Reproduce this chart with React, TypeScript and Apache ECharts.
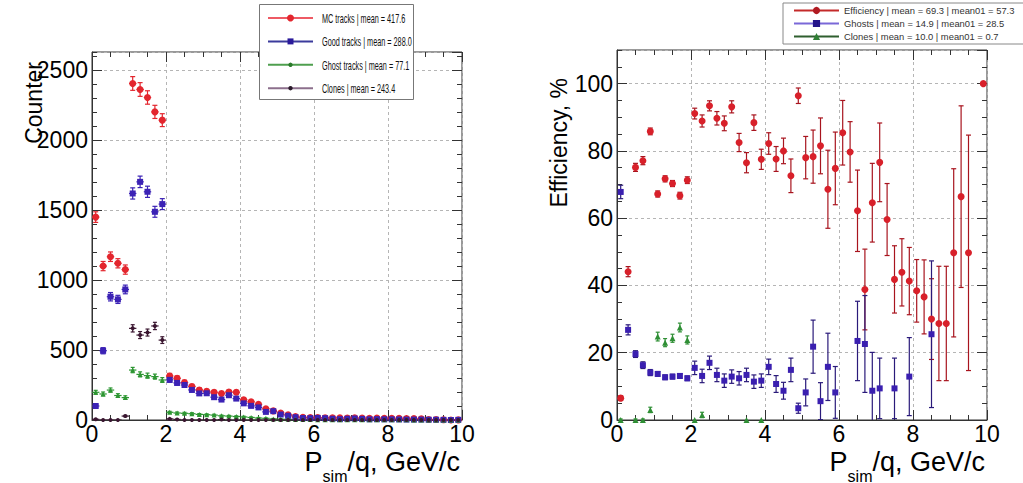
import React, { useEffect, useRef } from 'react';
import * as echarts from 'echarts';

const FONT = '"Liberation Sans", Arial, Helvetica, sans-serif';

// bin centres (GeV/c), bin width 0.2
const binCenters = [0.1, 0.3, 0.5, 0.7, 0.9, 1.1, 1.3, 1.5, 1.7, 1.9, 2.1, 2.3, 2.5, 2.7, 2.9, 3.1, 3.3, 3.5, 3.7, 3.9,
  4.1, 4.3, 4.5, 4.7, 4.9, 5.1, 5.3, 5.5, 5.7, 5.9, 6.1, 6.3, 6.5, 6.7, 6.9, 7.1, 7.3, 7.5, 7.7, 7.9,
  8.1, 8.3, 8.5, 8.7, 8.9, 9.1, 9.3, 9.5, 9.7, 9.9];

// ---- left panel: counters ----
const mcTracks = [1450, 1100, 1167, 1120, 1075, 2405, 2362, 2305, 2202, 2143, 315, 298, 268, 240, 215, 205, 198, 190, 200, 198,
  145, 130, 112, 80, 65, 50, 38, 25, 20, 18, 17, 16, 15, 16, 14, 15, 14, 13, 14, 13,
  12, 12, 11, 10, 9, 4, 3, 2, 0, 1];
const mcErr = [38, 33, 34, 33, 33, 49, 49, 48, 47, 46, 18, 17, 16, 15, 15, 14, 14, 14, 14, 14,
  12, 11, 11, 9, 8, 7, 6, 5, 4, 4, 4, 4, 4, 4, 4, 4, 4, 4, 4, 4,
  3, 3, 3, 3, 3, 2, 2, 1, 0, 1];
const goodTracks = [100, 495, 881, 862, 933, 1619, 1702, 1631, 1488, 1543, 287, 265, 250, 215, 190, 191, 163, 146, 177, 153,
  119, 101, 90, 58, 63, 39, 30, 20, 14, 13, 15, 13, 9, 6, 9, 11, 8, 5, 6, 5,
  5, 4, 3, 3, 3, 2, 2, 1, 0, 1];
const goodErr = [10, 22, 30, 29, 31, 40, 41, 40, 39, 39, 17, 16, 16, 15, 14, 14, 13, 12, 13, 12,
  11, 10, 9, 8, 8, 6, 5, 4, 4, 4, 4, 4, 3, 2, 3, 3, 3, 2, 2, 2,
  2, 2, 2, 2, 2, 1, 1, 1, 0, 1];
const ghostTracks = [198, 186, 214, 175, 160, 357, 326, 317, 310, 286, 55, 50, 48, 45, 40, 38, 35, 30, 28, 25,
  22, 18, 14, 12, 8, 6, 5, 4, 3, 3, 2, 2, 2, 1, 1, 1, 1, 1, 1, 1,
  1, 1, 1, 0, 0, 0, 0, 0, 0, 0];
const ghostErr = [14, 14, 15, 13, 13, 19, 18, 18, 18, 17, 7, 7, 7, 7, 6, 6, 6, 5, 5, 5,
  5, 4, 4, 3, 3, 2, 2, 2, 2, 2, 1, 1, 1, 1, 1, 1, 1, 1, 1, 1,
  1, 1, 1, 0, 0, 0, 0, 0, 0, 0];
const cloneTracks = [5, 0, 0, 0, 28, 655, 607, 625, 672, 571, 8, 4, 0, 0, 0, 0, 0, 3, 0, 0,
  0, 0, 0, 0, 0, 0, 0, 0, 0, 0, 0, 0, 0, 0, 0, 0, 0, 0, 0, 0,
  0, 0, 0, 0, 0, 0, 0, 0, 0, 0];
const cloneErr = [2, 0, 0, 0, 5, 26, 25, 25, 26, 24, 3, 2, 0, 0, 0, 0, 0, 2, 0, 0,
  0, 0, 0, 0, 0, 0, 0, 0, 0, 0, 0, 0, 0, 0, 0, 0, 0, 0, 0, 0,
  0, 0, 0, 0, 0, 0, 0, 0, 0, 0];

// ---- right panel: efficiency, % ----
const efficiency = [6.5, 44.1, 75.1, 77.1, 85.8, 67.2, 71.7, 70.3, 66.7, 71.3, 91.1, 88.9, 93.4, 89.7, 88.2, 93.1, 82.5, 76.5, 88.4, 77.5,
  82.2, 77.6, 80.0, 72.6, 96.4, 78.0, 78.3, 81.5, 68.6, 74.8, 85.4, 79.7, 62.2, 38.8, 64.6, 76.6, 59.6, 41.8, 43.9, 41.3,
  38.4, 36.6, 30.0, 28.7, 28.7, 49.7, 66.4, 49.7, null, 100];
const efficiencyErr = [0.7, 1.5, 1.2, 1.2, 1.0, 0.9, 0.9, 0.9, 1.0, 1.0, 1.6, 1.8, 1.5, 2.0, 2.2, 1.8, 2.7, 3.0, 2.3, 3.0,
  3.2, 3.7, 3.8, 5.0, 2.3, 6.3, 7.9, 8.3, 11.6, 10.8, 9.6, 9.0, 12.1, 12.0, 11.7, 11.7, 10.7, 10.0, 10.0, 10.0,
  9.3, 11.0, 12.0, 17.0, 17.0, 25.0, 27.0, 35.0, null, 0];
const ghostRate = [67.8, 26.8, 19.6, 16.3, 14.1, 13.7, 12.7, 12.9, 13.1, 12.4, 15.5, 13.1, 17.0, 13.4, 11.7, 12.9, 12.4, 13.4, 11.4, 11.7,
  15.8, 10.7, 8.7, 14.9, 3.5, 8.2, 21.8, 5.6, 15.8, 8.2, null, null, 23.5, 22.6, 8.7, 9.4, null, 9.4, null, 12.9,
  null, null, 25.5, null, null, null, null, null, null, null];
const ghostRateErr = [2.0, 1.5, 1.0, 1.0, 0.9, 0.7, 0.7, 0.7, 0.7, 0.7, 2.0, 2.0, 2.0, 2.0, 2.0, 2.0, 2.0, 2.0, 2.0, 2.0,
  2.3, 2.5, 2.5, 3.5, 1.5, 4.0, 7.9, 5.5, 10.0, 7.7, null, null, 11.8, 14.4, 11.4, 9.0, null, 9.0, null, 11.6,
  null, null, 21.8, null, null, null, null, null, null, null];
const cloneRate = [0, null, 0, 0, 3.0, 24.8, 23.0, 24.3, 27.5, 23.8, 0, 1.5, null, null, null, null, null, 0, null, 0,
  null, null, null, null, null, null, null, null, null, null, null, null, null, null, null, null, null, null, null, null,
  null, null, null, null, null, null, null, null, null, null];
const cloneRateErr = [0.3, null, 0.3, 0.3, 0.8, 1.3, 1.2, 1.2, 1.3, 1.2, 0, 0.8, null, null, null, null, null, 0, null, 0,
  null, null, null, null, null, null, null, null, null, null, null, null, null, null, null, null, null, null, null, null,
  null, null, null, null, null, null, null, null, null, null];

const leftLegendLabels = ['MC tracks | mean = 417.6', 'Good tracks | mean = 288.0', 'Ghost tracks | mean = 77.1', 'Clones | mean = 243.4'];
const rightLegendLabels = ['Efficiency | mean = 69.3 | mean01 = 57.3', 'Ghosts | mean = 14.9 | mean01 = 28.5', 'Clones | mean = 10.0 | mean01 = 0.7'];
const xTitle = '{n|P}{s|sim}{n|/q, GeV/c}';
const leftYTitle = 'Counter';
const rightYTitle = 'Efficiency, %';

function points(vals: (number | null)[], errs: (number | null)[]) {
  const out: number[][] = [];
  binCenters.forEach((x, i) => {
    const v = vals[i];
    if (v === null || v === undefined) return;
    out.push([x, v, (errs[i] as number) ?? 0]);
  });
  return out;
}

function errRender(color: string, xHalf: number, cap: number) {
  return (_params: any, api: any) => {
    const x = api.value(0), y = api.value(1), e = api.value(2);
    const c = api.coord([x, y]);
    const children: any[] = [];
    const st = { stroke: color, lineWidth: 1.2 };
    if (e > 0) {
      const hi = api.coord([x, y + e]);
      const lo = api.coord([x, y - e]);
      children.push({ type: 'line', shape: { x1: c[0], y1: hi[1], x2: c[0], y2: lo[1] }, style: st });
      if (cap > 0) {
        children.push({ type: 'line', shape: { x1: c[0] - cap, y1: hi[1], x2: c[0] + cap, y2: hi[1] }, style: st });
        children.push({ type: 'line', shape: { x1: c[0] - cap, y1: lo[1], x2: c[0] + cap, y2: lo[1] }, style: st });
      }
    }
    if (xHalf > 0) {
      const l = api.coord([x - xHalf, y]);
      const r = api.coord([x + xHalf, y]);
      children.push({ type: 'line', shape: { x1: l[0], y1: c[1], x2: r[0], y2: c[1] }, style: st });
    }
    return { type: 'group', children };
  };
}

const AX = '#333';
const tickLabel = { fontSize: 23, color: '#000', fontFamily: FONT };

function xAxesFor(gridIndex: number) {
  const common = {
    type: 'value', gridIndex, min: 0, max: 10, interval: 2,
    axisTick: { show: true, inside: true, length: 10, lineStyle: { color: AX } },
    minorTick: { show: true, splitNumber: 4, length: 5, lineStyle: { color: AX } },
  };
  return [
    {
      ...common, position: 'bottom',
      axisLine: { show: true, onZero: false, lineStyle: { color: AX } },
      splitLine: { show: true, lineStyle: { color: '#b5b5b5', type: [3, 3] } },
      axisLabel: { ...tickLabel, margin: 2, formatter: (v: number) => String(v) },
      name: xTitle, nameLocation: 'end', nameGap: -2, nameMoveOverlap: false,
      nameTextStyle: {
        align: 'right', verticalAlign: 'top', padding: [28, 0, 0, 0], color: '#000', fontFamily: FONT,
        rich: {
          n: { fontSize: 27, fontFamily: FONT, color: '#000', align: 'left', verticalAlign: 'top', padding: [0, 0, 9, 0] },
          s: { fontSize: 16, fontFamily: FONT, color: '#000', align: 'left', verticalAlign: 'bottom' },
        },
      },
    },
    {
      ...common, position: 'top',
      axisLine: { show: false, onZero: false },
      splitLine: { show: false }, axisLabel: { show: false },
    },
  ];
}

function yAxesFor(gridIndex: number, yMax: number, major: number, minor: number, name: string, gap: number) {
  const base = { type: 'value', gridIndex, min: 0, max: yMax, splitLine: { show: false }, axisLabel: { show: false }, axisLine: { show: false, onZero: false } };
  return [
    {
      ...base, position: 'left', interval: major,
      axisLine: { show: true, onZero: false, lineStyle: { color: AX } },
      axisTick: { show: true, inside: true, length: 10, lineStyle: { color: AX } },
      splitLine: { show: true, lineStyle: { color: '#b5b5b5', type: [3, 3] } },
      axisLabel: { ...tickLabel, margin: 4, showMaxLabel: false, formatter: (v: number) => String(v) },
      name, nameLocation: 'end', nameRotate: 90, nameGap: gap, nameMoveOverlap: false,
      nameTextStyle: { fontSize: 23, fontFamily: FONT, color: '#000', align: 'right', verticalAlign: 'bottom', padding: [0, 0, 47, 0] },
    },
    { ...base, position: 'left', interval: minor, axisTick: { show: true, inside: true, length: 5, lineStyle: { color: AX } } },
    { ...base, position: 'right', interval: major, axisTick: { show: true, inside: true, length: 10, lineStyle: { color: AX } } },
    { ...base, position: 'right', interval: minor, axisTick: { show: true, inside: true, length: 5, lineStyle: { color: AX } } },
  ];
}

function markerSeries(name: string, data: number[][], xi: number, yi: number, symbol: string, size: number, color: string) {
  return {
    type: 'line', name, xAxisIndex: xi, yAxisIndex: yi, data, encode: { x: 0, y: 1 },
    symbol, symbolSize: size, showSymbol: true, showAllSymbol: true,
    lineStyle: { width: 0, color }, itemStyle: { color, borderWidth: 0 },
    emphasis: { disabled: true }, silent: true, z: 4, clip: true,
  };
}

function errSeries(name: string, data: number[][], xi: number, yi: number, color: string, xHalf: number, cap: number) {
  return {
    type: 'custom', name, xAxisIndex: xi, yAxisIndex: yi, data, encode: { x: 0, y: 1 },
    renderItem: errRender(color, xHalf, cap), silent: true, z: 3, clip: true,
  };
}

const COL = {
  mc: '#e3262e', good: '#3b22b5', ghost: '#2d9632', clone: '#3a1630',
  eff: '#d8202a', effBar: '#a8141e', gh: '#3a1fb0', ghBar: '#2a1a7a', cl: '#2f8f35',
};

function leftLegendGraphic() {
  const els: any[] = [
    { type: 'rect', shape: { x: 259.5, y: 4.5, width: 154, height: 95 }, style: { fill: '#fff', stroke: '#777', lineWidth: 1 }, z: 100 },
  ];
  const lineCols = ['#ee5a64', '#3b3b9c', '#4f9f4f', '#8c6f8c'];
  const markCols = [COL.mc, '#2a1a9a', '#2a7a2a', '#2a1a2a'];
  leftLegendLabels.forEach((t, i) => {
    const y = 18 + i * 23.4;
    els.push({ type: 'line', shape: { x1: 268, y1: y, x2: 313, y2: y }, style: { stroke: lineCols[i], lineWidth: 2 }, z: 101 });
    if (i === 0) els.push({ type: 'circle', shape: { cx: 290.5, cy: y, r: 3.5 }, style: { fill: markCols[i] }, z: 102 });
    else if (i === 1) els.push({ type: 'rect', shape: { x: 287.5, y: y - 3, width: 6, height: 6 }, style: { fill: markCols[i] }, z: 102 });
    else els.push({ type: 'circle', shape: { cx: 290.5, cy: y, r: 2.2 }, style: { fill: markCols[i] }, z: 102 });
    els.push({ type: 'text', x: 322, y, scaleX: 0.56, z: 102, style: { text: t, fill: '#111', font: `13px ${FONT}`, align: 'left', verticalAlign: 'middle' } });
  });
  return els;
}

export default function App() {
  const ref = useRef<HTMLDivElement>(null);
  useEffect(() => {
    const chart = echarts.init(ref.current!, null, { renderer: 'svg' });
    const ly = yAxesFor(0, 2630, 500, 100, leftYTitle, -10);
    const ry = yAxesFor(1, 110, 20, 5, rightYTitle, -28);
    const option: any = {
      animation: false,
      backgroundColor: '#fff',
      textStyle: { fontFamily: FONT },
      grid: [
        { left: 92, top: 52, width: 370, height: 368, show: true, borderColor: AX, borderWidth: 1, backgroundColor: 'transparent', containLabel: false, outerBoundsMode: 'none' },
        { left: 617, top: 50, width: 370, height: 370, show: true, borderColor: AX, borderWidth: 1, backgroundColor: 'transparent', containLabel: false, outerBoundsMode: 'none' },
      ],
      xAxis: [...xAxesFor(0), ...xAxesFor(1)],
      yAxis: [...ly, ...ry],
      legend: {
        left: 783, top: 3, orient: 'vertical', itemGap: 4, itemWidth: 45, itemHeight: 9,
        padding: [3, 10, 3, 10], borderColor: '#888', borderWidth: 1, backgroundColor: '#fff',
        selectedMode: false,
        textStyle: { fontSize: 9.4, fontFamily: FONT, color: '#333' },
        data: [
          { name: rightLegendLabels[0], lineStyle: { color: '#c42a2a', width: 2 }, itemStyle: { color: '#b01a22' } },
          { name: rightLegendLabels[1], lineStyle: { color: '#7a68d8', width: 2 }, itemStyle: { color: '#24148a' } },
          { name: rightLegendLabels[2], lineStyle: { color: '#2f5f2f', width: 2 }, itemStyle: { color: '#2f7f35' } },
        ],
      },
      graphic: leftLegendGraphic(),
      series: [
        errSeries('mcErr', points(mcTracks, mcErr), 0, 0, COL.mc, 0.1, 2.5),
        markerSeries(leftLegendLabels[0], points(mcTracks, mcErr), 0, 0, 'circle', 7, COL.mc),
        errSeries('goodErr', points(goodTracks, goodErr), 0, 0, COL.good, 0.1, 2.5),
        markerSeries(leftLegendLabels[1], points(goodTracks, goodErr), 0, 0, 'rect', 6, COL.good),
        errSeries('ghostErr', points(ghostTracks, ghostErr), 0, 0, COL.ghost, 0.1, 2),
        markerSeries(leftLegendLabels[2], points(ghostTracks, ghostErr), 0, 0, 'triangle', 5, COL.ghost),
        errSeries('cloneErr', points(cloneTracks, cloneErr), 0, 0, COL.clone, 0.1, 2),
        markerSeries(leftLegendLabels[3], points(cloneTracks, cloneErr), 0, 0, 'circle', 4, COL.clone),

        errSeries('effErr', points(efficiency, efficiencyErr), 2, 4, COL.effBar, 0, 2.5),
        markerSeries(rightLegendLabels[0], points(efficiency, efficiencyErr), 2, 4, 'circle', 7, COL.eff),
        errSeries('ghRateErr', points(ghostRate, ghostRateErr), 2, 4, COL.ghBar, 0, 2.5),
        markerSeries(rightLegendLabels[1], points(ghostRate, ghostRateErr), 2, 4, 'rect', 6, COL.gh),
        errSeries('clRateErr', points(cloneRate, cloneRateErr), 2, 4, COL.cl, 0, 2),
        markerSeries(rightLegendLabels[2], points(cloneRate, cloneRateErr), 2, 4, 'triangle', 6, COL.cl),
      ],
    };
    chart.setOption(option);
    return () => chart.dispose();
  }, []);
  return <div ref={ref} style={{ position: 'fixed', left: 0, top: 0, width: 1023, height: 483, background: '#fff' }} />;
}
